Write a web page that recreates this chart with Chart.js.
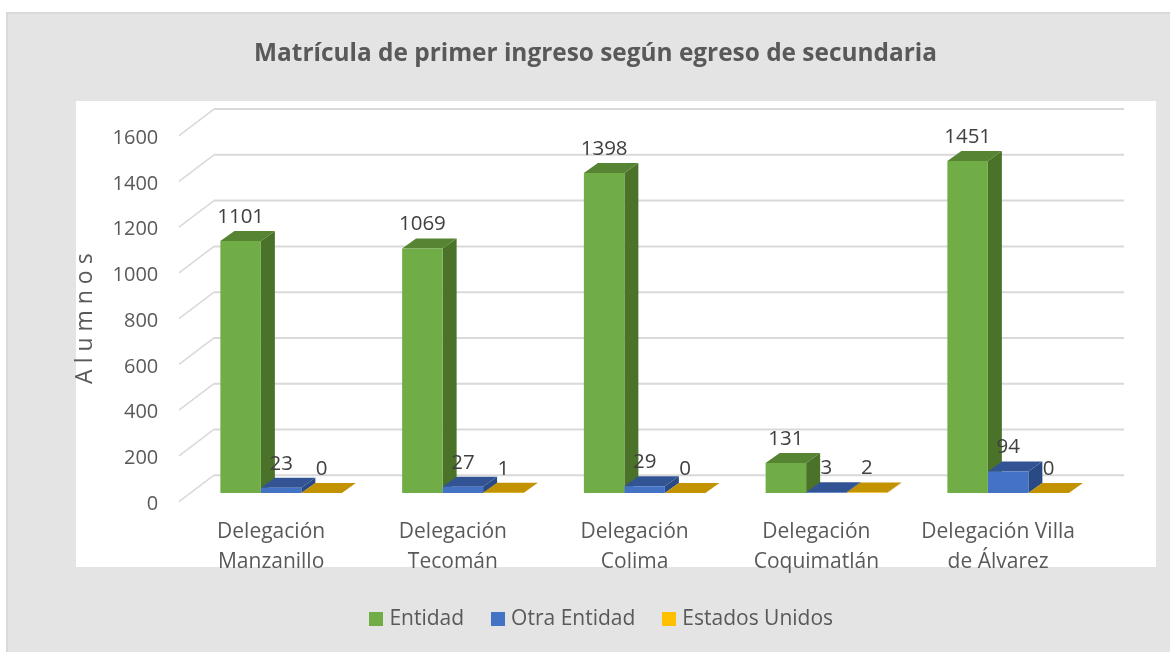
<!DOCTYPE html>
<html><head><meta charset="utf-8">
<style>html,body{margin:0;padding:0;background:#fff;overflow:hidden}#wrap{position:absolute;left:0;top:0;width:1170px;height:652px}</style>
<script src="https://cdn.jsdelivr.net/npm/chart.js@4/dist/chart.umd.min.js"></script>
</head><body><div id="wrap"><canvas id="c" width="1170" height="652"></canvas></div>
<script>
const categories = [['Delegación','Manzanillo'],['Delegación','Tecomán'],['Delegación','Colima'],['Delegación','Coquimatlán'],['Delegación Villa','de Álvarez']];
const entidad = [1101,1069,1398,131,1451];
const otraEntidad = [23,27,29,3,94];
const estadosUnidos = [0,1,0,2,0];
const seriesNames = ['Entidad','Otra Entidad','Estados Unidos'];
const chartTitle = 'Matrícula de primer ingreso según egreso de secundaria';
const axisTitle = 'A l u m n o s';

const FONT = '"Open Sans"';
const faces = [
  {front:'#70ad47', side:'#4a7329', top:'#578432'},
  {front:'#4472c4', side:'#2a4a85', top:'#325494'},
  {front:'#ffc000', side:'#a67c00', top:'#c29200'}
];
const BAR_DX = 14, BAR_DY = 10, WALL_DX = 35, WALL_DY = 26.5, WALL_RIGHT = 1124, FLOOR_LEFT = 179;

function legendSwatch(color){
  const s = document.createElement('canvas');
  s.width = 14; s.height = 14;
  const g = s.getContext('2d');
  g.fillStyle = color; g.fillRect(0,0,14,14);
  return s;
}

const scene = {
  id:'scene',
  afterLayout(chart){
    const t = chart.titleBlock, l = chart.legend;
    t.top = 39; t.bottom = t.top + t.height; t.left = 0; t.right = 1191;
    l.top = 578; l.bottom = l.top + l.height; l.left = 0; l.right = 1206;
  },
  beforeDraw(chart){
    const c = chart.ctx;
    c.save();
    c.fillStyle = '#fff'; c.fillRect(0,0,1170,652);
    c.fillStyle = '#d9d9d9'; c.fillRect(6,12,1164,640);
    c.fillStyle = '#e4e4e4'; c.fillRect(8,14,1162,638);
    c.fillStyle = '#fff'; c.fillRect(76,101,1080,466);
    c.restore();
  },
  beforeDatasetsDraw(chart){
    const c = chart.ctx, y = chart.scales.y;
    c.save();
    c.strokeStyle = '#d9d9d9';
    y.ticks.forEach(t => {
      const p = y.getPixelForValue(t.value);
      c.lineWidth = 1.5;
      c.beginPath(); c.moveTo(FLOOR_LEFT,p); c.lineTo(FLOOR_LEFT+WALL_DX,p-WALL_DY); c.stroke();
      c.lineWidth = 2;
      c.beginPath(); c.moveTo(FLOOR_LEFT+WALL_DX,p-WALL_DY); c.lineTo(WALL_RIGHT,p-WALL_DY); c.stroke();
    });
    chart.data.datasets.forEach((ds,i)=>{
      chart.getDatasetMeta(i).data.forEach(b=>{
        const hw = b.width/2, L = b.x-hw, R = b.x+hw, T = b.y, B = b.base;
        if (B-T > 0.01){
          c.fillStyle = faces[i].side;
          c.beginPath(); c.moveTo(R,T); c.lineTo(R+BAR_DX,T-BAR_DY); c.lineTo(R+BAR_DX,B-BAR_DY); c.lineTo(R,B); c.closePath(); c.fill();
        }
        c.fillStyle = faces[i].top;
        c.beginPath(); c.moveTo(L,T); c.lineTo(L+BAR_DX,T-BAR_DY); c.lineTo(R+BAR_DX,T-BAR_DY); c.lineTo(R,T); c.closePath(); c.fill();
      });
    });
    c.restore();
  },
  afterDatasetsDraw(chart){
    const c = chart.ctx;
    c.save();
    c.fillStyle = '#404040';
    c.font = '20.5px '+FONT;
    c.textAlign = 'center'; c.textBaseline = 'middle';
    chart.data.datasets.forEach((ds,i)=>{
      chart.getDatasetMeta(i).data.forEach((b,j)=>{
        c.fillText(String(ds.data[j]), b.x, b.y-24);
      });
    });
    c.restore();
  }
};

new Chart(document.getElementById('c'),{
  type:'bar',
  data:{labels:categories,datasets:[
    {label:seriesNames[0],data:entidad,backgroundColor:faces[0].front,yAxisID:'yBars'},
    {label:seriesNames[1],data:otraEntidad,backgroundColor:faces[1].front,yAxisID:'yBars'},
    {label:seriesNames[2],data:estadosUnidos,backgroundColor:faces[2].front,yAxisID:'yBars'}
  ]},
  plugins:[scene],
  options:{
    responsive:false,animation:false,
    categoryPercentage:0.6685,barPercentage:1,
    layout:{padding:{left:0,right:71,top:106.3,bottom:0}},
    plugins:{
      tooltip:{enabled:false},
      title:{display:true,text:chartTitle,color:'#595959',padding:0,font:{family:FONT,size:24.4,weight:'bold',lineHeight:1.2}},
      legend:{position:'bottom',labels:{
        usePointStyle:true,pointStyleWidth:6,boxHeight:14,padding:30.5,color:'#595959',font:{family:FONT,size:21},
        generateLabels(chart){
          return chart.data.datasets.map((d,i)=>({text:d.label,fillStyle:d.backgroundColor,strokeStyle:d.backgroundColor,lineWidth:0,fontColor:'#595959',pointStyle:legendSwatch(d.backgroundColor),datasetIndex:i}));
        }
      }}
    },
    scales:{
      x:{
        grid:{display:false,drawTicks:false},border:{display:false},
        ticks:{color:'#595959',padding:15.5,labelOffset:-10,maxRotation:0,minRotation:0,autoSkip:false,font:{family:FONT,size:21,lineHeight:1.43}},
        afterFit(s){ s.height = 652-501.7-s.chart.legend.height; }
      },
      y:{
        position:'left',min:0,max:1600,
        grid:{display:false,drawTicks:false},border:{display:false},
        ticks:{stepSize:200,color:'#595959',padding:32,labelOffset:2.5,font:{family:FONT,size:20},callback:v=>String(v)},
        title:{display:true,text:axisTitle,color:'#595959',padding:{top:72,bottom:0},font:{family:FONT,size:23,lineHeight:1.2}},
        afterFit(s){ s.width = 190.25; }
      },
      yBars:{display:false,position:'left',min:-38,max:1562,grid:{display:false}}
    }
  }
});
</script></body></html>
